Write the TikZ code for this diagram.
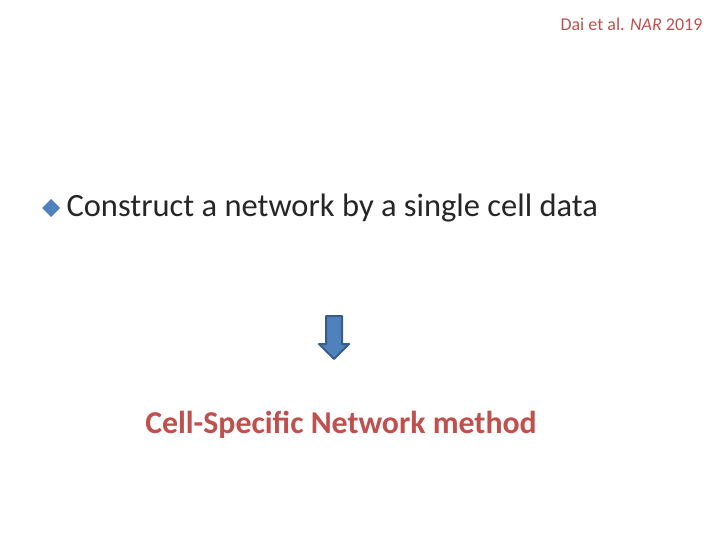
\documentclass[tikz,border=0pt]{standalone}
\usepackage{fontspec}
\setmainfont{Carlito}
\definecolor{red1}{HTML}{C0504D}
\definecolor{blue1}{HTML}{4F81BD}
\definecolor{blue2}{HTML}{385D8A}
\begin{document}
\begin{tikzpicture}[x=1pt,y=-1pt]
\useasboundingbox[fill=white] (0,0) rectangle (720,540);
\node[anchor=east,text=red1,font=\fontsize{18}{20}\selectfont] (cite) at (706,24) {Dai et al. \textit{NAR} 2019};
\fill[blue1] (51,199) -- (60,208) -- (51,217) -- (42,208) -- cycle;
\node[anchor=west,text=black!85,font=\fontsize{32.5}{36}\selectfont] (t1) at (63,208) {Construct a network by a single cell data};
\draw[blue2,fill=blue1,line width=2pt,line join=round] (326,316) -- (342,316) -- (342,344) -- (349,344) -- (334,359) -- (319,344) -- (326,344) -- cycle;
\node[text=red1,font=\bfseries\fontsize{31.8}{36}\selectfont] (t2) at (341,425) {Cell-Specific Network method};
\end{tikzpicture}
\end{document}
